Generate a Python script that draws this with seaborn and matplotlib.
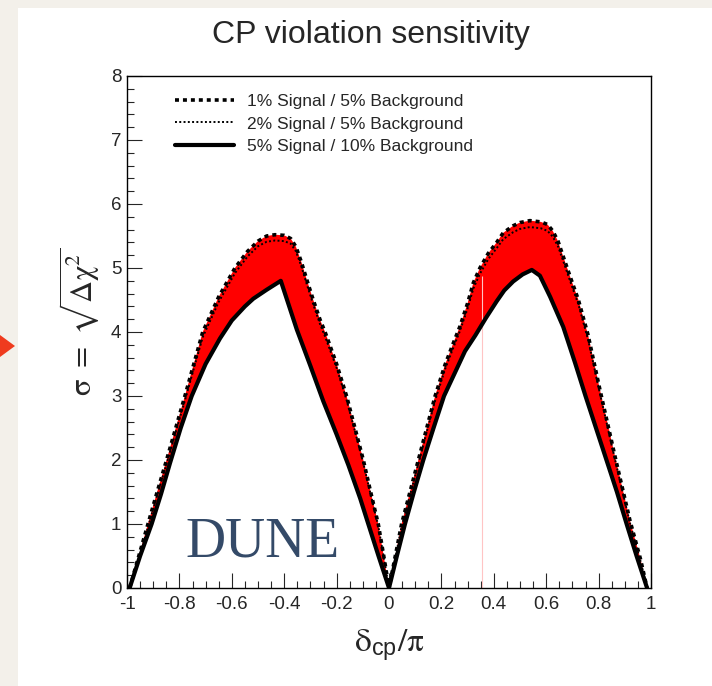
import numpy as np
import pandas as pd
import matplotlib
matplotlib.use("Agg")
import matplotlib.pyplot as plt
from matplotlib.patches import Polygon, Rectangle
from matplotlib.ticker import MultipleLocator
import seaborn as sns

# ---------------- data ----------------
title = "CP violation sensitivity"
labels = ["1% Signal / 5% Background",
          "2% Signal / 5% Background",
          "5% Signal / 10% Background"]

# 1% signal / 5% background (upper dashed curve)
x_s1 = [-0.99, -0.955, -0.92, -0.885, -0.849, -0.814, -0.779, -0.745, -0.711, -0.65,
        -0.588, -0.54, -0.50, -0.467, -0.435, -0.40, -0.375, -0.355, -0.335, -0.314,
        -0.289, -0.263, -0.244, -0.20, -0.162, -0.13, -0.098, -0.07, -0.041, -0.02,
        0.0, 0.024, 0.048, 0.08, 0.112, 0.144, 0.176, 0.214, 0.243, 0.271,
        0.30, 0.322, 0.347, 0.379, 0.411, 0.436, 0.474, 0.50, 0.538, 0.58,
        0.605, 0.625, 0.645, 0.665, 0.691, 0.723, 0.76, 0.805, 0.863, 0.92,
        0.96, 0.985]
y_s1 = [0.0, 0.5, 1.0, 1.5, 2.0, 2.5, 3.0, 3.5, 4.0, 4.55,
        5.0, 5.26, 5.42, 5.50, 5.52, 5.51, 5.46, 5.33, 5.1, 4.82,
        4.5, 4.19, 4.0, 3.5, 3.0, 2.5, 2.0, 1.5, 1.0, 0.5,
        0.0, 0.5, 1.0, 1.5, 2.0, 2.5, 3.0, 3.49, 3.8, 4.09,
        4.45, 4.77, 5.0, 5.23, 5.40, 5.55, 5.66, 5.71, 5.74, 5.72,
        5.68, 5.58, 5.42, 5.18, 4.87, 4.5, 3.95, 3.1, 2.05, 1.05,
        0.45, 0.0]

# 2% signal / 5% background (dotted curve)
x_s2 = x_s1
y_s2 = [0.0, 0.46, 0.95, 1.45, 1.94, 2.44, 2.93, 3.43, 3.92, 4.47,
        4.92, 5.18, 5.34, 5.41, 5.43, 5.42, 5.38, 5.26, 5.03, 4.75,
        4.43, 4.12, 3.93, 3.44, 2.94, 2.45, 1.95, 1.46, 0.97, 0.48,
        0.0, 0.47, 0.96, 1.45, 1.94, 2.44, 2.93, 3.42, 3.73, 4.02,
        4.37, 4.68, 4.91, 5.14, 5.31, 5.45, 5.56, 5.61, 5.64, 5.62,
        5.58, 5.49, 5.34, 5.11, 4.8, 4.43, 3.88, 3.04, 2.0, 1.01,
        0.42, 0.0]

# 5% signal / 10% background (lower solid curve)
x_s3 = [-0.99, -0.95, -0.906, -0.87, -0.836, -0.795, -0.753, -0.70, -0.645, -0.60,
        -0.55, -0.518, -0.467, -0.413, -0.352, -0.30, -0.251, -0.20, -0.155, -0.11,
        -0.079, -0.04, 0.0,
        0.03, 0.061, 0.095, 0.131, 0.17, 0.21, 0.25, 0.29, 0.33, 0.37,
        0.411, 0.44, 0.474, 0.51, 0.545, 0.576, 0.615, 0.665, 0.71, 0.75,
        0.79, 0.83, 0.87, 0.907, 0.945, 0.985]
y_s3 = [0.0, 0.5, 1.0, 1.47, 1.95, 2.5, 3.0, 3.5, 3.9, 4.18,
        4.4, 4.52, 4.66, 4.80, 4.04, 3.47, 2.92, 2.4, 1.92, 1.4,
        1.0, 0.5, 0.0,
        0.5, 1.0, 1.5, 2.0, 2.5, 3.0, 3.35, 3.7, 3.95, 4.22,
        4.48, 4.65, 4.79, 4.9, 4.97, 4.88, 4.55, 4.08, 3.52, 3.0,
        2.5, 2.0, 1.5, 1.0, 0.5, 0.0]

# faint vertical artefact line in the reference
artifact_x = 0.354
artifact_top = 4.87

x_ticks = [-1, -0.8, -0.6, -0.4, -0.2, 0, 0.2, 0.4, 0.6, 0.8, 1]
x_ticklabels = ["-1", "-0.8", "-0.6", "-0.4", "-0.2", "0", "0.2", "0.4", "0.6", "0.8", "1"]
y_ticks = [0, 1, 2, 3, 4, 5, 6, 7, 8]

# ---------------- style ----------------
sns.set_style("white")
plt.rcParams["font.family"] = ["Liberation Sans", "DejaVu Sans"]
plt.rcParams["mathtext.fontset"] = "stix"

W, H = 712, 686
fig = plt.figure(figsize=(W / 100, H / 100), dpi=100, facecolor="white")

# page background (beige margin) and the red arrow at the left
beige = "#f3f0ea"
fig.patches.append(Rectangle((0, 0), 18 / W, 1, transform=fig.transFigure,
                             facecolor=beige, edgecolor="none", zorder=-10))
fig.patches.append(Rectangle((0, (H - 8) / H), 1, 8 / H, transform=fig.transFigure,
                             facecolor=beige, edgecolor="none", zorder=-10))
fig.patches.append(Polygon([(0, 1 - 335 / H), (15 / W, 1 - 346 / H), (0, 1 - 357 / H)],
                           closed=True, transform=fig.transFigure,
                           facecolor="#ef3b1e", edgecolor="none", zorder=5))

ax = fig.add_axes([127 / W, (H - 588) / H, 524 / W, 512 / H])
ax.set_facecolor("white")

df1 = pd.DataFrame({"x": x_s1, "y": y_s1})
df2 = pd.DataFrame({"x": x_s2, "y": y_s2})
df3 = pd.DataFrame({"x": x_s3, "y": y_s3})

# red band between the best and worst case
ax.fill(np.r_[x_s1, x_s3[::-1]], np.r_[y_s1, y_s3[::-1]],
        facecolor="#ff0000", edgecolor="none", zorder=1)
ax.vlines(artifact_x, 0, artifact_top, color="#ffc4c4", lw=0.8, zorder=2)

sns.lineplot(data=df3, x="x", y="y", ax=ax, color="black", lw=3.0,
             estimator=None, sort=False, label=labels[2], zorder=3)
sns.lineplot(data=df2, x="x", y="y", ax=ax, color="black", lw=1.4,
             estimator=None, sort=False, label=labels[1], zorder=4)
sns.lineplot(data=df1, x="x", y="y", ax=ax, color="black", lw=2.6,
             estimator=None, sort=False, label=labels[0], zorder=5)
l3, l2, l1 = ax.lines[-3], ax.lines[-2], ax.lines[-1]
l1.set_linestyle((0, (1.1, 1.1)))
l2.set_linestyle((0, (1.0, 1.2)))
l3.set_linestyle("-")
for ln in (l1, l2, l3):
    ln.set_solid_joinstyle("round")

leg = ax.legend([l1, l2, l3], labels, loc="upper left",
                bbox_to_anchor=(0.0916, 0.965), frameon=False, fontsize=12.5,
                handlelength=3.4, handletextpad=0.75, labelspacing=0.42,
                borderpad=0, borderaxespad=0)

ax.text(0.258, 0.062, "DUNE", transform=ax.transAxes, ha="center", va="baseline",
        fontsize=40, color="#344a68", family=["Liberation Serif", "DejaVu Serif"])

ax.set_xlim(-1, 1)
ax.set_ylim(0, 8)
ax.set_xticks(x_ticks)
ax.set_xticklabels(x_ticklabels)
ax.set_yticks(y_ticks)
ax.xaxis.set_minor_locator(MultipleLocator(0.05))
ax.yaxis.set_minor_locator(MultipleLocator(0.2))
ax.tick_params(which="major", direction="in", length=10.8, width=0.8,
               labelsize=13.5, top=False, right=False, bottom=True, left=True)
ax.tick_params(axis="x", which="major", pad=6)
ax.tick_params(axis="y", which="major", pad=4)
ax.tick_params(which="minor", direction="in", length=5.0, width=0.8,
               top=False, right=False, bottom=True, left=True)
for s in ax.spines.values():
    s.set_linewidth(1.0)
    s.set_color("black")

ax.set_xlabel(r"$\mathrm{\delta}_{\mathregular{cp}}/\mathrm{\pi}$", fontsize=24, labelpad=10)
ax.set_ylabel(r"$\mathrm{\sigma}\ =\ \sqrt{\mathrm{\Delta\chi}^{2}}$", fontsize=22)
ax.yaxis.set_label_coords(-0.05, 0.52)
fig.text(371 / W, 1 - 35 / H, title, ha="center", va="center", fontsize=23)

fig.savefig("out.png", dpi=100, facecolor=fig.get_facecolor())
